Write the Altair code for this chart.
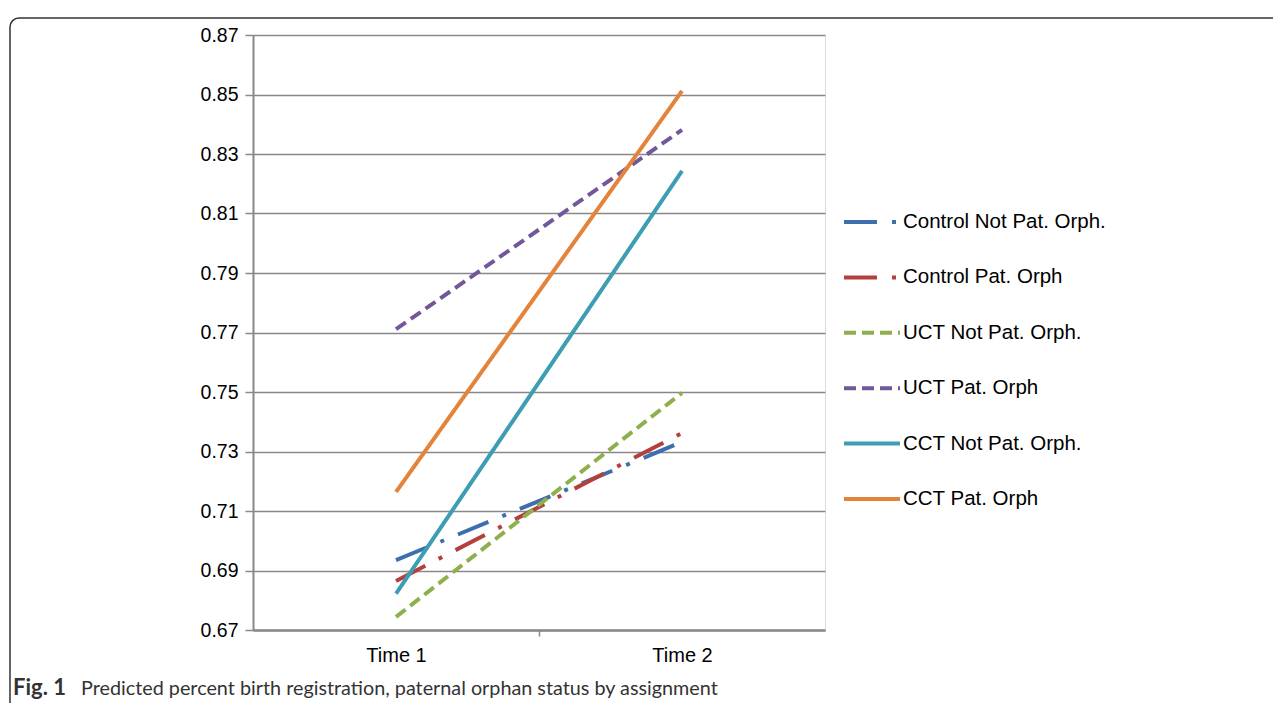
import altair as alt
import pandas as pd

series = ["Control Not Pat. Orph.", "Control Pat. Orph", "UCT Not Pat. Orph.",
          "UCT Pat. Orph", "CCT Not Pat. Orph.", "CCT Pat. Orph"]
time1 = [0.6935, 0.6865, 0.6744, 0.7711, 0.6822, 0.7164]
time2 = [0.7332, 0.7362, 0.7497, 0.8381, 0.8243, 0.8512]
time_labels = ["Time 1", "Time 2"]
colors = ["#3F6EAF", "#B3403C", "#8DB04C", "#73579B", "#3C9DB3", "#E4843A"]
dashes = [[33, 15, 4, 15], [33, 15, 4, 15], [12, 6], [12, 6], [1, 0], [1, 0]]
y_ticks = [0.67, 0.69, 0.71, 0.73, 0.75, 0.77, 0.79, 0.81, 0.83, 0.85, 0.87]
caption_bold = "Fig. 1"
caption_text = "Predicted percent birth registration, paternal orphan status by assignment"

rows = []
for i, s in enumerate(series):
    rows.append({"series": s, "t": 1, "v": time1[i]})
    rows.append({"series": s, "t": 2, "v": time2[i]})
df = pd.DataFrame(rows)

W, H = 572, 595
GRAY = "#888888"

lines = alt.Chart(df).mark_line(strokeWidth=4, clip=False).encode(
    x=alt.X("t:Q", scale=alt.Scale(domain=[0.5, 2.5], nice=False, zero=False),
            axis=alt.Axis(values=[1, 1.5, 2], title=None, grid=False,
                          labelExpr="datum.value == 1 ? 'Time 1' : datum.value == 2 ? 'Time 2' : ''",
                          tickOpacity={"condition": {"test": "datum.value == 1.5", "value": 1}, "value": 0},
                          tickSize=6, tickColor=GRAY, tickWidth=1.5,
                          domainColor=GRAY, domainWidth=2.5,
                          labelFont="Liberation Sans", labelFontSize=20, labelColor="#000000",
                          labelPadding=9, labelFlush=False)),
    y=alt.Y("v:Q", scale=alt.Scale(domain=[0.67, 0.87], nice=False, zero=False),
            axis=alt.Axis(values=y_ticks, format=".2f", title=None, grid=True,
                          gridColor=GRAY, gridWidth=1.5, gridOpacity=1,
                          tickSize=8, tickColor=GRAY, tickWidth=1.5,
                          domainColor=GRAY, domainWidth=2,
                          labelFont="Liberation Sans", labelFontSize=19.5, labelColor="#000000",
                          labelPadding=7)),
    color=alt.Color("series:N", scale=alt.Scale(domain=series, range=colors),
                    legend=alt.Legend(title=None, orient="none", legendX=589, legendY=157,
                                      symbolType="stroke", symbolSize=3136, symbolStrokeWidth=4,
                                      labelFont="Liberation Sans", labelFontSize=20.5,
                                      labelColor="#000000", labelOffset=1, rowPadding=14.4,
                                      labelLimit=0, symbolOpacity=1)),
    strokeDash=alt.StrokeDash("series:N", scale=alt.Scale(domain=series, range=dashes)),
    detail="series:N",
    order="t:Q",
)

frame_df = pd.DataFrame({"k": [0]})
frame = alt.Chart(frame_df).mark_rect(
    fillOpacity=0, stroke="#333333", strokeWidth=1.5, cornerRadius=9, clip=False
).encode(x=alt.value(-243), x2=alt.value(1300), y=alt.value(-17), y2=alt.value(800))

cap_df = pd.DataFrame({"a": [caption_bold], "b": [caption_text]})
cap1 = alt.Chart(cap_df).mark_text(
    align="left", baseline="alphabetic", font="Lato", fontWeight="bold", fontSize=22,
    color="#333333", clip=False
).encode(text="a:N", x=alt.value(-240), y=alt.value(660))
cap2 = alt.Chart(cap_df).mark_text(
    align="left", baseline="alphabetic", font="Lato", fontSize=19.8,
    color="#333333", clip=False
).encode(text="b:N", x=alt.value(-172), y=alt.value(660))

chart = alt.layer(frame, lines, cap1, cap2).properties(
    width=W, height=H,
    autosize=alt.AutoSizeParams(type="none"),
    padding={"left": 245, "top": 27, "right": 448, "bottom": 90},
).configure_view(stroke=None).configure(background="white")

chart.save("out.html", embed_options={"renderer": "svg", "actions": False})
